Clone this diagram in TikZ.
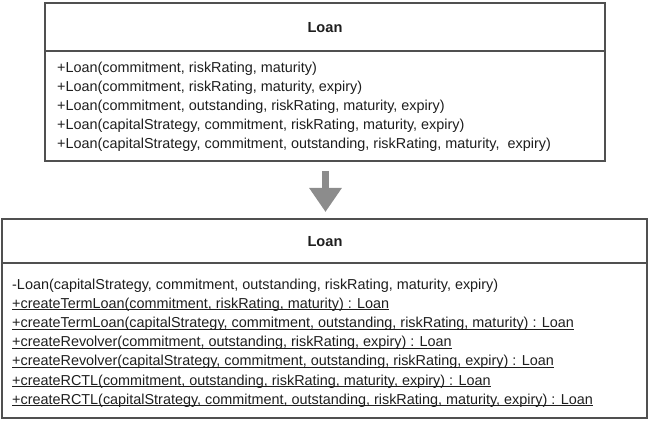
\documentclass[tikz,border=0pt]{standalone}
\usepackage{fontspec}
\setmainfont{Liberation Sans}
\usetikzlibrary{arrows.meta}
\pgfdeclarelayer{edgelayer}
\pgfdeclarelayer{nodelayer}
\pgfsetlayers{edgelayer,nodelayer,main}
\definecolor{boxline}{HTML}{505050}
\definecolor{txt}{HTML}{1E1E1E}
\definecolor{arrowgrey}{HTML}{8C8C8C}
\tikzset{x=1pt,y=1pt,font=\fontsize{14.4}{17}\selectfont}
\tikzstyle{none}=[inner sep=0pt]
\tikzstyle{classbox}=[draw=boxline,line width=1.2pt,inner sep=0pt]
\tikzstyle{title}=[inner sep=0pt,anchor=base,text=txt,font=\fontsize{14.6}{17}\selectfont\bfseries]
\tikzstyle{member}=[inner sep=0pt,anchor=base west,text=txt]
\tikzstyle{divider}=[draw=boxline,line width=1.2pt]
\tikzstyle{refactor}=[draw=arrowgrey,line width=7.5pt,-{Triangle[width=31pt,length=24pt]}]
\newcommand{\stat}[1]{$\underline{\smash{\hbox{#1}}}$}

\begin{document}
\begin{tikzpicture}
	\useasboundingbox (0, 0) rectangle (650, -422);
	\begin{pgfonlayer}{nodelayer}
		\node [style=classbox, minimum width=560pt, minimum height=158pt] (0) at (325, -82) {};
		\node [style=title] (1) at (325, -32.5) {Loan};
		\node [style=none] (2) at (45, -51) {};
		\node [style=none] (3) at (605, -51) {};
		\node [style=member] (4) at (57, -73) {+Loan(commitment, riskRating, maturity)};
		\node [style=member] (5) at (57, -92) {+Loan(commitment, riskRating, maturity, expiry)};
		\node [style=member] (6) at (57, -111) {+Loan(commitment, outstanding, riskRating, maturity, expiry)};
		\node [style=member] (7) at (57, -130) {+Loan(capitalStrategy, commitment, riskRating, maturity, expiry)};
		\node [style=member] (8) at (57, -149) {+Loan(capitalStrategy, commitment, outstanding, riskRating, maturity, \ expiry)};
		\node [style=none] (9) at (325.5, -171) {};
		\node [style=none] (10) at (325.5, -212) {};
		\node [style=classbox, minimum width=645pt, minimum height=199pt] (11) at (324.5, -318.5) {};
		\node [style=title] (12) at (325, -246.5) {Loan};
		\node [style=none] (13) at (2, -263) {};
		\node [style=none] (14) at (647, -263) {};
		\node [style=member] (15) at (12, -289) {-Loan(capitalStrategy, commitment, outstanding, riskRating, maturity, expiry)};
		\node [style=member] (16) at (12, -308.2) {\stat{+createTermLoan(commitment, riskRating, maturity) : Loan}};
		\node [style=member] (17) at (12, -327.4) {\stat{+createTermLoan(capitalStrategy, commitment, outstanding, riskRating, maturity) : Loan}};
		\node [style=member] (18) at (12, -346.6) {\stat{+createRevolver(commitment, outstanding, riskRating, expiry) : Loan}};
		\node [style=member] (19) at (12, -365.8) {\stat{+createRevolver(capitalStrategy, commitment, outstanding, riskRating, expiry) : Loan}};
		\node [style=member] (20) at (12, -385) {\stat{+createRCTL(commitment, outstanding, riskRating, maturity, expiry) : Loan}};
		\node [style=member] (21) at (12, -404.2) {\stat{+createRCTL(capitalStrategy, commitment, outstanding, riskRating, maturity, expiry) : Loan}};
	\end{pgfonlayer}
	\begin{pgfonlayer}{edgelayer}
		\draw [style=divider] (2.center) to (3.center);
		\draw [style=refactor] (9.center) to (10.center);
		\draw [style=divider] (13.center) to (14.center);
	\end{pgfonlayer}
\end{tikzpicture}
\end{document}
